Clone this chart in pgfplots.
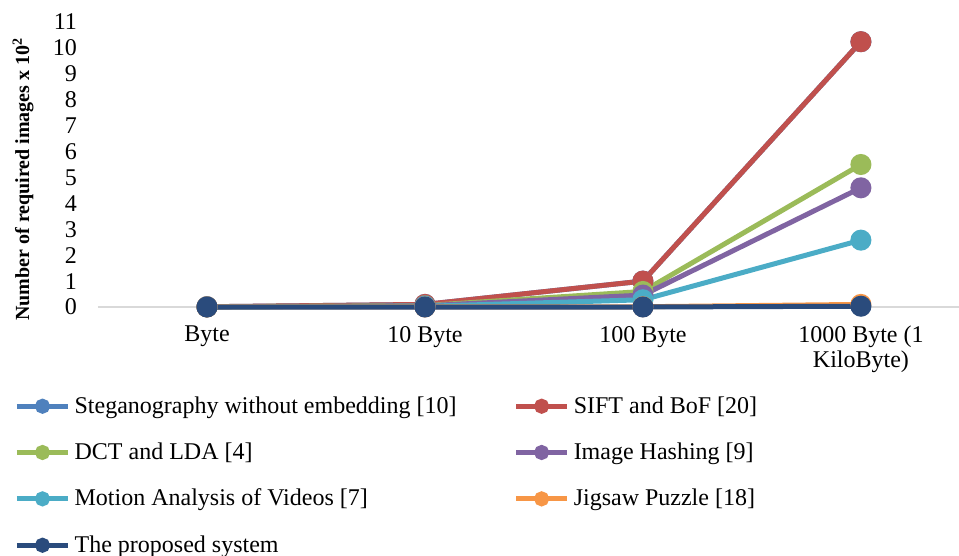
\documentclass[border=0pt]{standalone}
\usepackage{pgfplots}
\pgfplotsset{compat=1.18}
\usepackage{fontspec}
\setmainfont{Liberation Serif}
\definecolor{cblue}{HTML}{4F81BD}
\definecolor{cred}{HTML}{C0504D}
\definecolor{cgreen}{HTML}{9BBB59}
\definecolor{cpurple}{HTML}{8064A2}
\definecolor{ccyan}{HTML}{4BACC6}
\definecolor{corange}{HTML}{F79646}
\definecolor{cdark}{HTML}{2A4B7C}
\begin{document}
\begin{tikzpicture}
\begin{axis}[
  name=main,
  scale only axis, width=430.5pt, height=142.5pt,
  xmin=-0.5, xmax=3.45, ymin=0, ymax=11,
  clip=false,
  axis x line=bottom, axis y line=left,
  x axis line style={-, draw=black!15, line width=0.8pt},
  y axis line style={draw=none},
  xtick={0,1,2,3},
  xticklabels={Byte, 10 Byte, 100 Byte, {1000 Byte (1\\KiloByte)}},
  xticklabel style={align=center, font=\fontsize{12}{12.5}\selectfont, yshift=-6pt},
  ytick={0,1,...,11},
  yticklabel style={font=\fontsize{12}{14}\selectfont, xshift=-7pt},
  major tick length=0pt,
  /pgf/number format/assume math mode=true,
  ylabel={\textbf{Number of required images x 10\textsuperscript{2}}},
  ylabel style={at={(axis description cs:-0.087,0.449)}, anchor=center, font=\fontsize{10}{11}\selectfont},
  every axis plot/.append style={line width=2.5pt, mark=*, mark size=4pt},
  legend columns=2,
  legend cell align=left,
  legend style={at={(axis description cs:0,0)}, anchor=north west, xshift=-45pt, yshift=-40.5pt,
    draw=none, font=\fontsize{12}{14}\selectfont, row sep=9.3pt,
    /tikz/every even column/.append style={column sep=26.5pt}},
  legend image code/.code={\draw[mark repeat=2,mark phase=2,#1,mark size=2.5pt] plot coordinates {(0cm,0cm) (0.45cm,0cm) (0.9cm,0cm)};},
]
\addplot[color=cblue] coordinates {(0,0.01) (1,0.1) (2,1.0) (3,10.24)};
\addlegendentry{Steganography without embedding [10]}
\addplot[color=cred] coordinates {(0,0.01) (1,0.1) (2,1.0) (3,10.24)};
\addlegendentry{SIFT and BoF [20]}
\addplot[color=cgreen] coordinates {(0,0.006) (1,0.055) (2,0.6) (3,5.5)};
\addlegendentry{DCT and LDA [4]}
\addplot[color=cpurple] coordinates {(0,0.005) (1,0.046) (2,0.46) (3,4.6)};
\addlegendentry{Image Hashing [9]}
\addplot[color=ccyan] coordinates {(0,0.003) (1,0.026) (2,0.28) (3,2.58)};
\addlegendentry{Motion Analysis of Videos [7]}
\addplot[color=corange] coordinates {(0,0) (1,0.001) (2,0.01) (3,0.1)};
\addlegendentry{Jigsaw Puzzle [18]}
\addplot[color=cdark] coordinates {(0,0) (1,0) (2,0) (3,0.03)};
\addlegendentry{The proposed system}
\end{axis}
\pgfresetboundingbox
\path[use as bounding box] ([xshift=-49pt,yshift=-124.5pt]main.south west) rectangle ([yshift=11pt]main.north east);
\end{tikzpicture}
\end{document}
